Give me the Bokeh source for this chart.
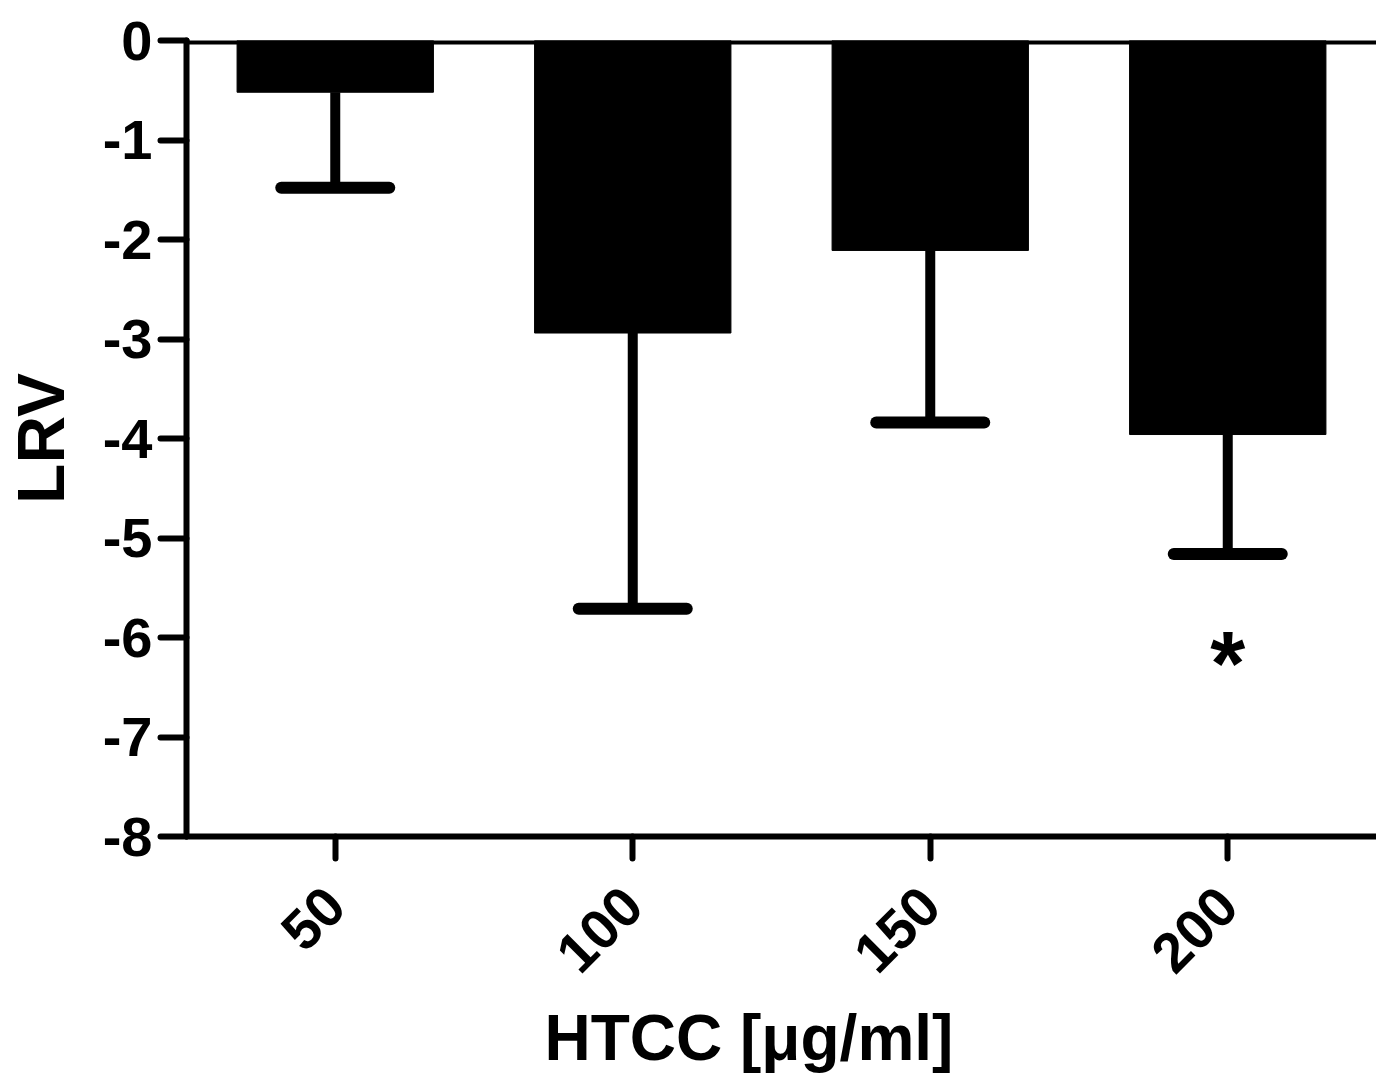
import math
from bokeh.plotting import figure
from bokeh.models import Range1d, FactorRange, FixedTicker, Span, Whisker, TeeHead, ColumnDataSource, Title
from bokeh.embed import file_html
from bokeh.resources import INLINE
from bokeh.core.properties import value

categories = ["50", "100", "150", "200"]
lrv_mean = [-0.52, -2.94, -2.11, -3.96]
lrv_err = [0.96, 2.77, 1.73, 1.20]
y_ticks = [0, -1, -2, -3, -4, -5, -6, -7, -8]
sig_category = ["200"]
sig_y = [-6.27]
sig_mark = ["*"]
x_title = "HTCC [μg/ml]"
y_title = "LRV"

lower = [m - e for m, e in zip(lrv_mean, lrv_err)]
src = ColumnDataSource(dict(cat=categories, mean=lrv_mean, lower=lower, zero=[0] * len(categories)))

FONT = "Liberation Sans"

p = figure(x_range=FactorRange(factors=categories, range_padding=0),
           y_range=Range1d(-8, 0),
           width=1376, height=1080, output_backend="svg", toolbar_location=None,
           min_border_left=183, min_border_right=0, min_border_top=40, min_border_bottom=237)
p.outline_line_color = None
p.grid.visible = False

p.vbar(x="cat", top="zero", bottom="mean", width=0.66, color="black", source=src)

wh = Whisker(base="cat", upper="mean", lower="lower", source=src, line_width=10, line_color="black",
             upper_head=None,
             lower_head=TeeHead(size=108, line_width=12, line_color="black", line_cap="round"))
p.add_layout(wh)

p.add_layout(Span(location=0, dimension="width", line_color="black", line_width=8))

p.text(x=sig_category, y=sig_y, text=sig_mark, text_font=value(FONT),
       text_font_style="bold", text_font_size="90px", text_align="center", text_baseline="middle")

p.yaxis.ticker = FixedTicker(ticks=y_ticks)
p.yaxis.major_label_overrides = {t: str(t) for t in y_ticks}
p.yaxis.minor_tick_line_color = None
for ax in (p.xaxis[0], p.yaxis[0]):
    ax.axis_line_width = 6
    ax.major_tick_line_width = 6
    ax.major_tick_line_cap = "round"
    ax.major_tick_in = 0
    ax.major_label_text_font = FONT
    ax.major_label_text_font_style = "bold"
    ax.major_label_text_font_size = "56px"
    ax.major_label_text_color = "black"
    ax.axis_label_text_font = FONT
    ax.axis_label_text_font_style = "bold"
    ax.axis_label_text_color = "black"
    ax.axis_line_cap = "round"

p.yaxis.major_tick_out = 26
p.yaxis.major_label_standoff = 8
p.yaxis.axis_label = y_title
p.yaxis.axis_label_text_font_size = "66px"
p.yaxis.axis_label_standoff = 22

p.xaxis.major_tick_out = 22
p.xaxis.major_label_standoff = 38
p.xaxis.major_label_orientation = math.pi / 4

p.add_layout(Title(text=x_title, align="left", offset=358, standoff=14,
                   text_font=FONT, text_font_style="bold", text_font_size="64px",
                   text_color="black"), "below")

open("out.html", "w").write(file_html(p, INLINE))
